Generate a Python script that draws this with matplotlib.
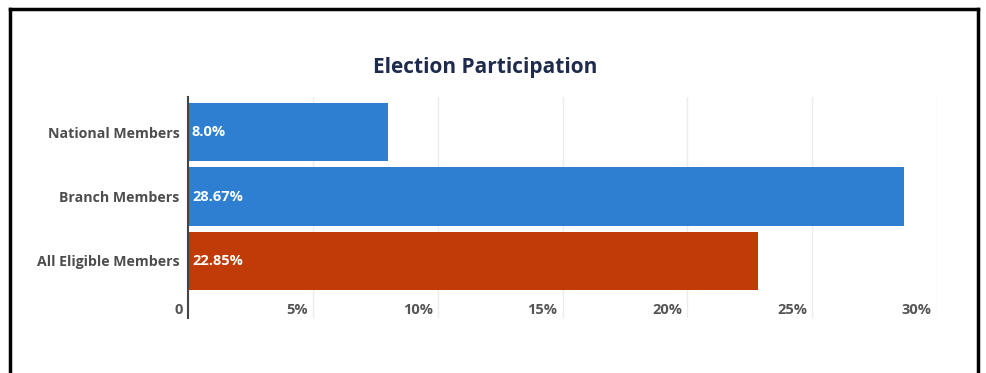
import matplotlib
matplotlib.use("Agg")
import matplotlib.pyplot as plt
import matplotlib.transforms as mtransforms
from matplotlib.lines import Line2D

categories = ["National Members", "Branch Members", "All Eligible Members"]
values = [8.0, 28.67, 22.85]
value_labels = ["8.0%", "28.67%", "22.85%"]
bar_colors = ["#2e7fd1", "#2e7fd1", "#c03b08"]
x_ticks = [0, 5, 10, 15, 20, 25, 30]
x_tick_labels = ["0", "5%", "10%", "15%", "20%", "25%", "30%"]

plt.rcParams["font.family"] = ["Open Sans", "DejaVu Sans"]

W, H = 986, 373
fig = plt.figure(figsize=(W / 100, H / 100), dpi=100)
ax = fig.add_axes([188 / W, 1 - 318 / H, (937 - 188) / W, (318 - 97) / H])

y = list(range(len(categories)))
ax.barh(y, values, height=0.9, color=bar_colors, zorder=2)
ax.set_ylim(2.884, -0.543)
ax.set_xlim(0, 30)

# value labels at the start of each bar
for yi, lab in zip(y, value_labels):
    ax.annotate(lab, xy=(0, yi), xytext=(4, 0), textcoords="offset pixels",
                ha="left", va="center", color="white", fontsize=10.5, fontweight="bold", zorder=3)

ax.set_yticks(y)
ax.set_yticklabels(categories, fontsize=10.2, fontweight="bold", color="#4d4d4d")
ax.tick_params(axis="y", length=0, pad=6)

ax.set_xticks(x_ticks)
ax.set_xticklabels(x_tick_labels, fontsize=10.5, fontweight="bold", color="#555555", ha="right")
ax.tick_params(axis="x", length=0, pad=-10.5)
offset = mtransforms.ScaledTranslation(-5 / 100, 0, fig.dpi_scale_trans)
for lbl in ax.get_xticklabels():
    lbl.set_transform(lbl.get_transform() + offset)

ax.grid(axis="x", color="#ececec", linewidth=1, zorder=0)
for side in ["top", "right", "bottom"]:
    ax.spines[side].set_visible(False)
ax.spines["left"].set_color("#444444")
ax.spines["left"].set_linewidth(1.5)
ax.spines["left"].set_zorder(4)

fig.text(485 / W, 1 - 68 / H, "Election Participation", ha="center", va="center",
         fontsize=15, fontweight="bold", color="#1e2b4d")

# frame around the chart (no bottom edge)
lw = 2.5
fig.add_artist(Line2D([10 / W, 10 / W], [0, 1 - 9 / H], transform=fig.transFigure, color="black", linewidth=lw))
fig.add_artist(Line2D([10 / W, 978 / W], [1 - 9 / H, 1 - 9 / H], transform=fig.transFigure, color="black", linewidth=lw))
fig.add_artist(Line2D([978 / W, 978 / W], [0, 1 - 9 / H], transform=fig.transFigure, color="black", linewidth=lw))

fig.savefig("out.png", dpi=100)
